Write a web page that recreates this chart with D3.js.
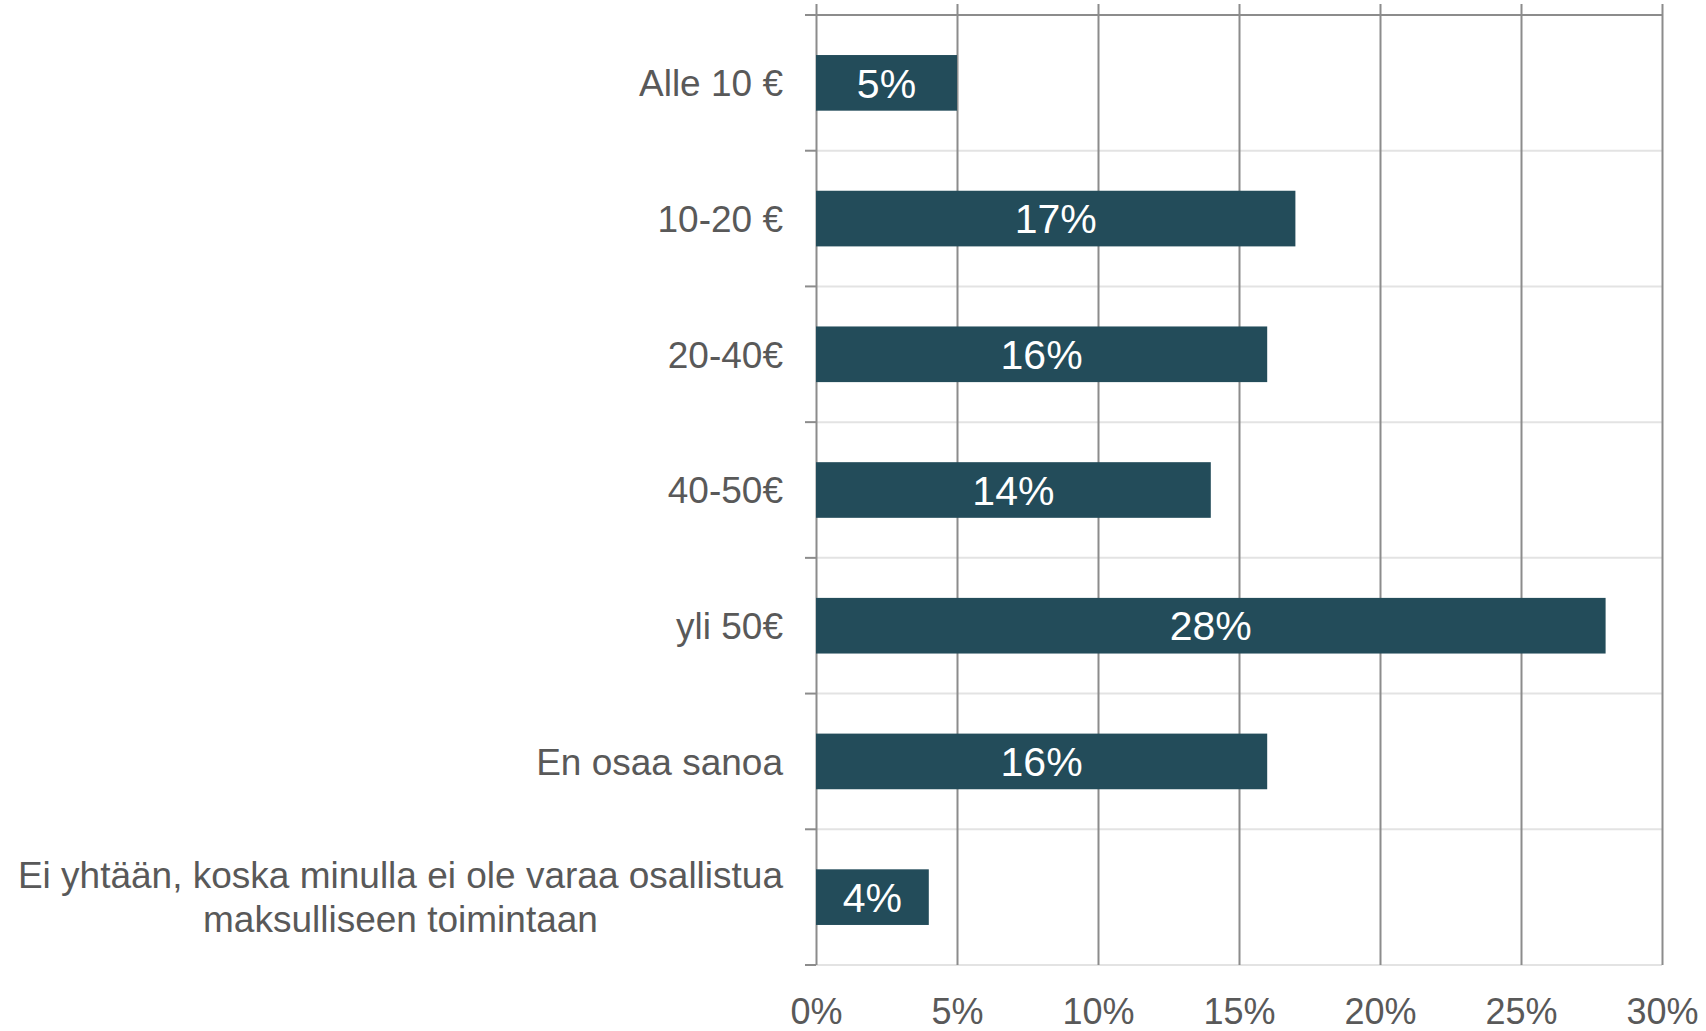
<!DOCTYPE html>
<html>
<head>
<meta charset="utf-8">
<script src="https://cdn.jsdelivr.net/npm/d3@7"></script>
<style>
  body { margin: 0; background: #fff; }
</style>
</head>
<body>
<div id="chart"></div>
<script>
// data
var categories = ["Alle 10 €", "10-20 €", "20-40€", "40-50€", "yli 50€", "En osaa sanoa",
  "Ei yhtään, koska minulla ei ole varaa osallistua\nmaksulliseen toimintaan"];
var values = [5, 17, 16, 14, 28, 16, 4];
var tickValues = [0, 5, 10, 15, 20, 25, 30];

var width = 1706, height = 1031;
var plot = {left: 816, right: 1662, top: 15, bottom: 965};
var font = "'Liberation Sans', Arimo, Arial, sans-serif";

var svg = d3.select("#chart").append("svg")
  .attr("width", width)
  .attr("height", height)
  .style("font-family", font);

var x = d3.scaleLinear().domain([0, 30]).range([plot.left, plot.right]);
var y = d3.scaleBand().domain(categories).range([plot.top, plot.bottom])
  .paddingInner(0.59).paddingOuter(0.295);

var step = y.step();

// light horizontal band lines
svg.append("g").selectAll("line")
  .data(d3.range(1, categories.length + 1))
  .join("line")
  .attr("x1", plot.left).attr("x2", plot.right)
  .attr("y1", function(i) { return plot.top + i * step; })
  .attr("y2", function(i) { return plot.top + i * step; })
  .attr("stroke", "#e3e3e3").attr("stroke-width", 2);

// vertical gridlines (from axis, labels removed)
var grid = svg.append("g")
  .attr("transform", "translate(0," + (plot.top - 11) + ")")
  .call(d3.axisBottom(x).tickValues(tickValues).tickSize(plot.bottom - plot.top + 11).tickFormat(""));
grid.select(".domain").remove();
grid.selectAll(".tick line").attr("stroke", "#8c8c8c").attr("stroke-width", 2);

// top line
svg.append("line")
  .attr("x1", plot.left - 11).attr("x2", plot.right)
  .attr("y1", plot.top).attr("y2", plot.top)
  .attr("stroke", "#8c8c8c").attr("stroke-width", 2);

// left axis ticks at band boundaries
svg.append("g").selectAll("line")
  .data(d3.range(1, categories.length + 1))
  .join("line")
  .attr("x1", plot.left - 11).attr("x2", plot.left)
  .attr("y1", function(i) { return plot.top + i * step; })
  .attr("y2", function(i) { return plot.top + i * step; })
  .attr("stroke", "#8c8c8c").attr("stroke-width", 2);

// bars
svg.append("g").selectAll("rect")
  .data(values)
  .join("rect")
  .attr("x", x(0))
  .attr("y", function(d, i) { return y(categories[i]); })
  .attr("width", function(d) { return x(d) - x(0); })
  .attr("height", y.bandwidth())
  .attr("fill", "#234c5a");

// value labels
svg.append("g").selectAll("text")
  .data(values)
  .join("text")
  .attr("x", function(d) { return (x(d) + x(0)) / 2; })
  .attr("y", function(d, i) { return y(categories[i]) + y.bandwidth() / 2; })
  .attr("dy", "0.36em")
  .attr("text-anchor", "middle")
  .attr("fill", "#ffffff")
  .attr("font-family", font)
  .attr("font-size", "41px")
  .text(function(d) { return d + "%"; });

// category labels (multi-line labels are centred within their block)
var labelRight = 783;
var catLabels = svg.append("g").selectAll("text")
  .data(categories)
  .join("text")
  .attr("fill", "#595959")
  .attr("font-family", font)
  .attr("font-size", "37px");

catLabels.each(function(d) {
  var t = d3.select(this);
  var lines = d.split("\n");
  var cy = y(d) + y.bandwidth() / 2;
  var lh = 44;
  lines.forEach(function(l, j) {
    t.append("tspan").attr("y", cy + (j - (lines.length - 1) / 2) * lh).attr("dy", "0.36em").text(l);
  });
  if (lines.length === 1) {
    t.attr("text-anchor", "end").selectAll("tspan").attr("x", labelRight);
  } else {
    var maxW = d3.max(t.selectAll("tspan").nodes(), function(n) { return n.getComputedTextLength(); });
    t.attr("text-anchor", "middle").selectAll("tspan").attr("x", labelRight - maxW / 2);
  }
});

// x tick labels
var xAxis = svg.append("g")
  .attr("transform", "translate(0," + plot.bottom + ")")
  .call(d3.axisBottom(x).tickValues(tickValues).tickSize(0).tickPadding(33)
    .tickFormat(function(d) { return d + "%"; }));
xAxis.select(".domain").remove();
xAxis.selectAll("text")
  .attr("fill", "#595959")
  .attr("font-size", "36px")
  .attr("font-family", font);
</script>
</body>
</html>
